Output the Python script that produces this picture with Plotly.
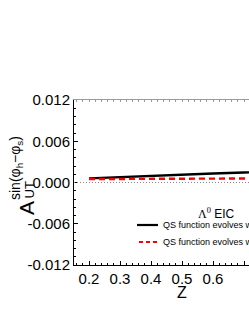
import plotly.graph_objects as go

# ---- data ----
z_vals = [0.2, 0.3, 0.4, 0.5, 0.6, 0.7, 0.8]
qs_evolved_a = [0.0006, 0.0008, 0.0010, 0.00118, 0.0013, 0.00145, 0.0016]
qs_evolved_b = [0.0005, 0.00053, 0.00055, 0.00058, 0.0006, 0.0006, 0.0006]
x_ticks = [0.2, 0.3, 0.4, 0.5, 0.6, 0.7, 0.8]
y_ticks = [-0.012, -0.006, 0.0, 0.006, 0.012]
y_ticklabels = ["-0.012", "-0.006", "0.000", "0.006", "0.012"]
x_title = "Z"
legend_title = ('<span style="font-family:Liberation Serif, Times New Roman, serif">'
                'Λ<sup>0</sup></span> EIC')
legend_labels = ["QS function evolves with TMD evolution",
                 "QS function evolves with DGLAP evolution"]

W, H = 249, 323
# positions in viewport pixels
L, T, B = 74, 100, 265
R = 249
pw, ph = R - L, B - T

def px(x):
    return (x - L) / pw

def py(y):
    return (B - y) / ph

FONT = "Arial, Liberation Sans, sans-serif"

fig = go.Figure()
fig.add_trace(go.Scatter(x=z_vals, y=qs_evolved_a, mode="lines",
                         line=dict(color="black", width=2.4),
                         showlegend=False, hoverinfo="skip"))
fig.add_trace(go.Scatter(x=z_vals, y=qs_evolved_b, mode="lines",
                         line=dict(color="#ff0000", width=2.4, dash="6px,4px"),
                         showlegend=False, hoverinfo="skip"))
# invisible trace to activate top axis
fig.add_trace(go.Scatter(x=[0.3], y=[0], xaxis="x2", mode="markers",
                         marker=dict(opacity=0), showlegend=False,
                         hoverinfo="skip"))

xr = [0.2 - 15 / 310, 0.2 + (R - 89) / 310]

fig.update_layout(
    width=W, height=H,
    margin=dict(l=L, r=W - R, t=T, b=H - B, pad=0),
    paper_bgcolor="white", plot_bgcolor="white",
    font=dict(family=FONT, color="black"),
    xaxis=dict(range=xr, tickvals=x_ticks, ticks="inside", ticklen=4,
               tickwidth=1, tickcolor="black",
               showline=True, linecolor="black", linewidth=1,
               showgrid=False, zeroline=False,
               tickfont=dict(size=15, family=FONT),
               minor=dict(dtick=0.02, ticks="inside", ticklen=2,
                          tickcolor="black", showgrid=False)),
    xaxis2=dict(range=xr, overlaying="x", side="top", showticklabels=False,
                ticks="inside", ticklen=2, tickcolor="#999999",
                dtick=0.02, tick0=0.2,
                showline=True, linecolor="#999999", linewidth=1,
                showgrid=False, zeroline=False),
    yaxis=dict(range=[-0.012, 0.012], tickvals=y_ticks,
               ticktext=y_ticklabels, ticks="inside", ticklen=4,
               tickwidth=1, tickcolor="black",
               showline=True, linecolor="black", linewidth=1,
               showgrid=False, zeroline=False,
               tickfont=dict(size=15, family=FONT),
               minor=dict(dtick=0.0012, ticks="inside", ticklen=2,
                          tickcolor="black", showgrid=False)),
)

# dotted zero line
fig.add_shape(type="line", xref="paper", x0=0, x1=1, yref="y", y0=0, y1=0,
              line=dict(color="#888888", width=1, dash="1px,2px"))

# x-axis title
fig.add_annotation(xref="paper", yref="paper", x=px(182), y=py(292),
                   text=x_title, showarrow=False, xanchor="center",
                   yanchor="middle", font=dict(family=FONT, size=16,
                                               color="black"))

# y-axis title pieces
ann = []
ann.append(dict(text="A", x=px(26), y=py(208), size=21))
ann.append(dict(text="UT", x=px(28.5), y=py(190), size=13))
ann.append(dict(text="sin(φ<sub>h</sub>−φ<sub>s</sub>)", x=px(16),
                y=py(168), size=14))
for a in ann:
    fig.add_annotation(xref="paper", yref="paper", textangle=-90,
                       showarrow=False, xanchor="center", yanchor="middle",
                       font=dict(family=FONT, color="black", size=a["size"]),
                       text=a["text"], x=a["x"], y=a["y"])

# legend
fig.add_annotation(xref="paper", yref="paper", x=px(216), y=py(213),
                   text=legend_title, showarrow=False, xanchor="center",
                   yanchor="middle",
                   font=dict(family=FONT, size=12, color="black"))
leg_y = [225, 242]
leg_styles = [dict(color="black", width=2.2),
              dict(color="#ff0000", width=2.2, dash="4px,3px")]
leg_x0 = [137, 139]
for lbl, yy, st, x0 in zip(legend_labels, leg_y, leg_styles, leg_x0):
    fig.add_shape(type="line", xref="paper", yref="paper",
                  x0=px(x0), x1=px(158), y0=py(yy), y1=py(yy), line=st)
    fig.add_annotation(xref="paper", yref="paper", x=px(161), y=py(yy),
                       text=lbl, showarrow=False, xanchor="left",
                       yanchor="middle",
                       font=dict(family=FONT, size=9, color="black"))

fig.write_html(
    "out.html",
    config={"displayModeBar": False},
    post_script="document.body.style.margin='0';"
                "document.documentElement.style.overflow='hidden';",
)
